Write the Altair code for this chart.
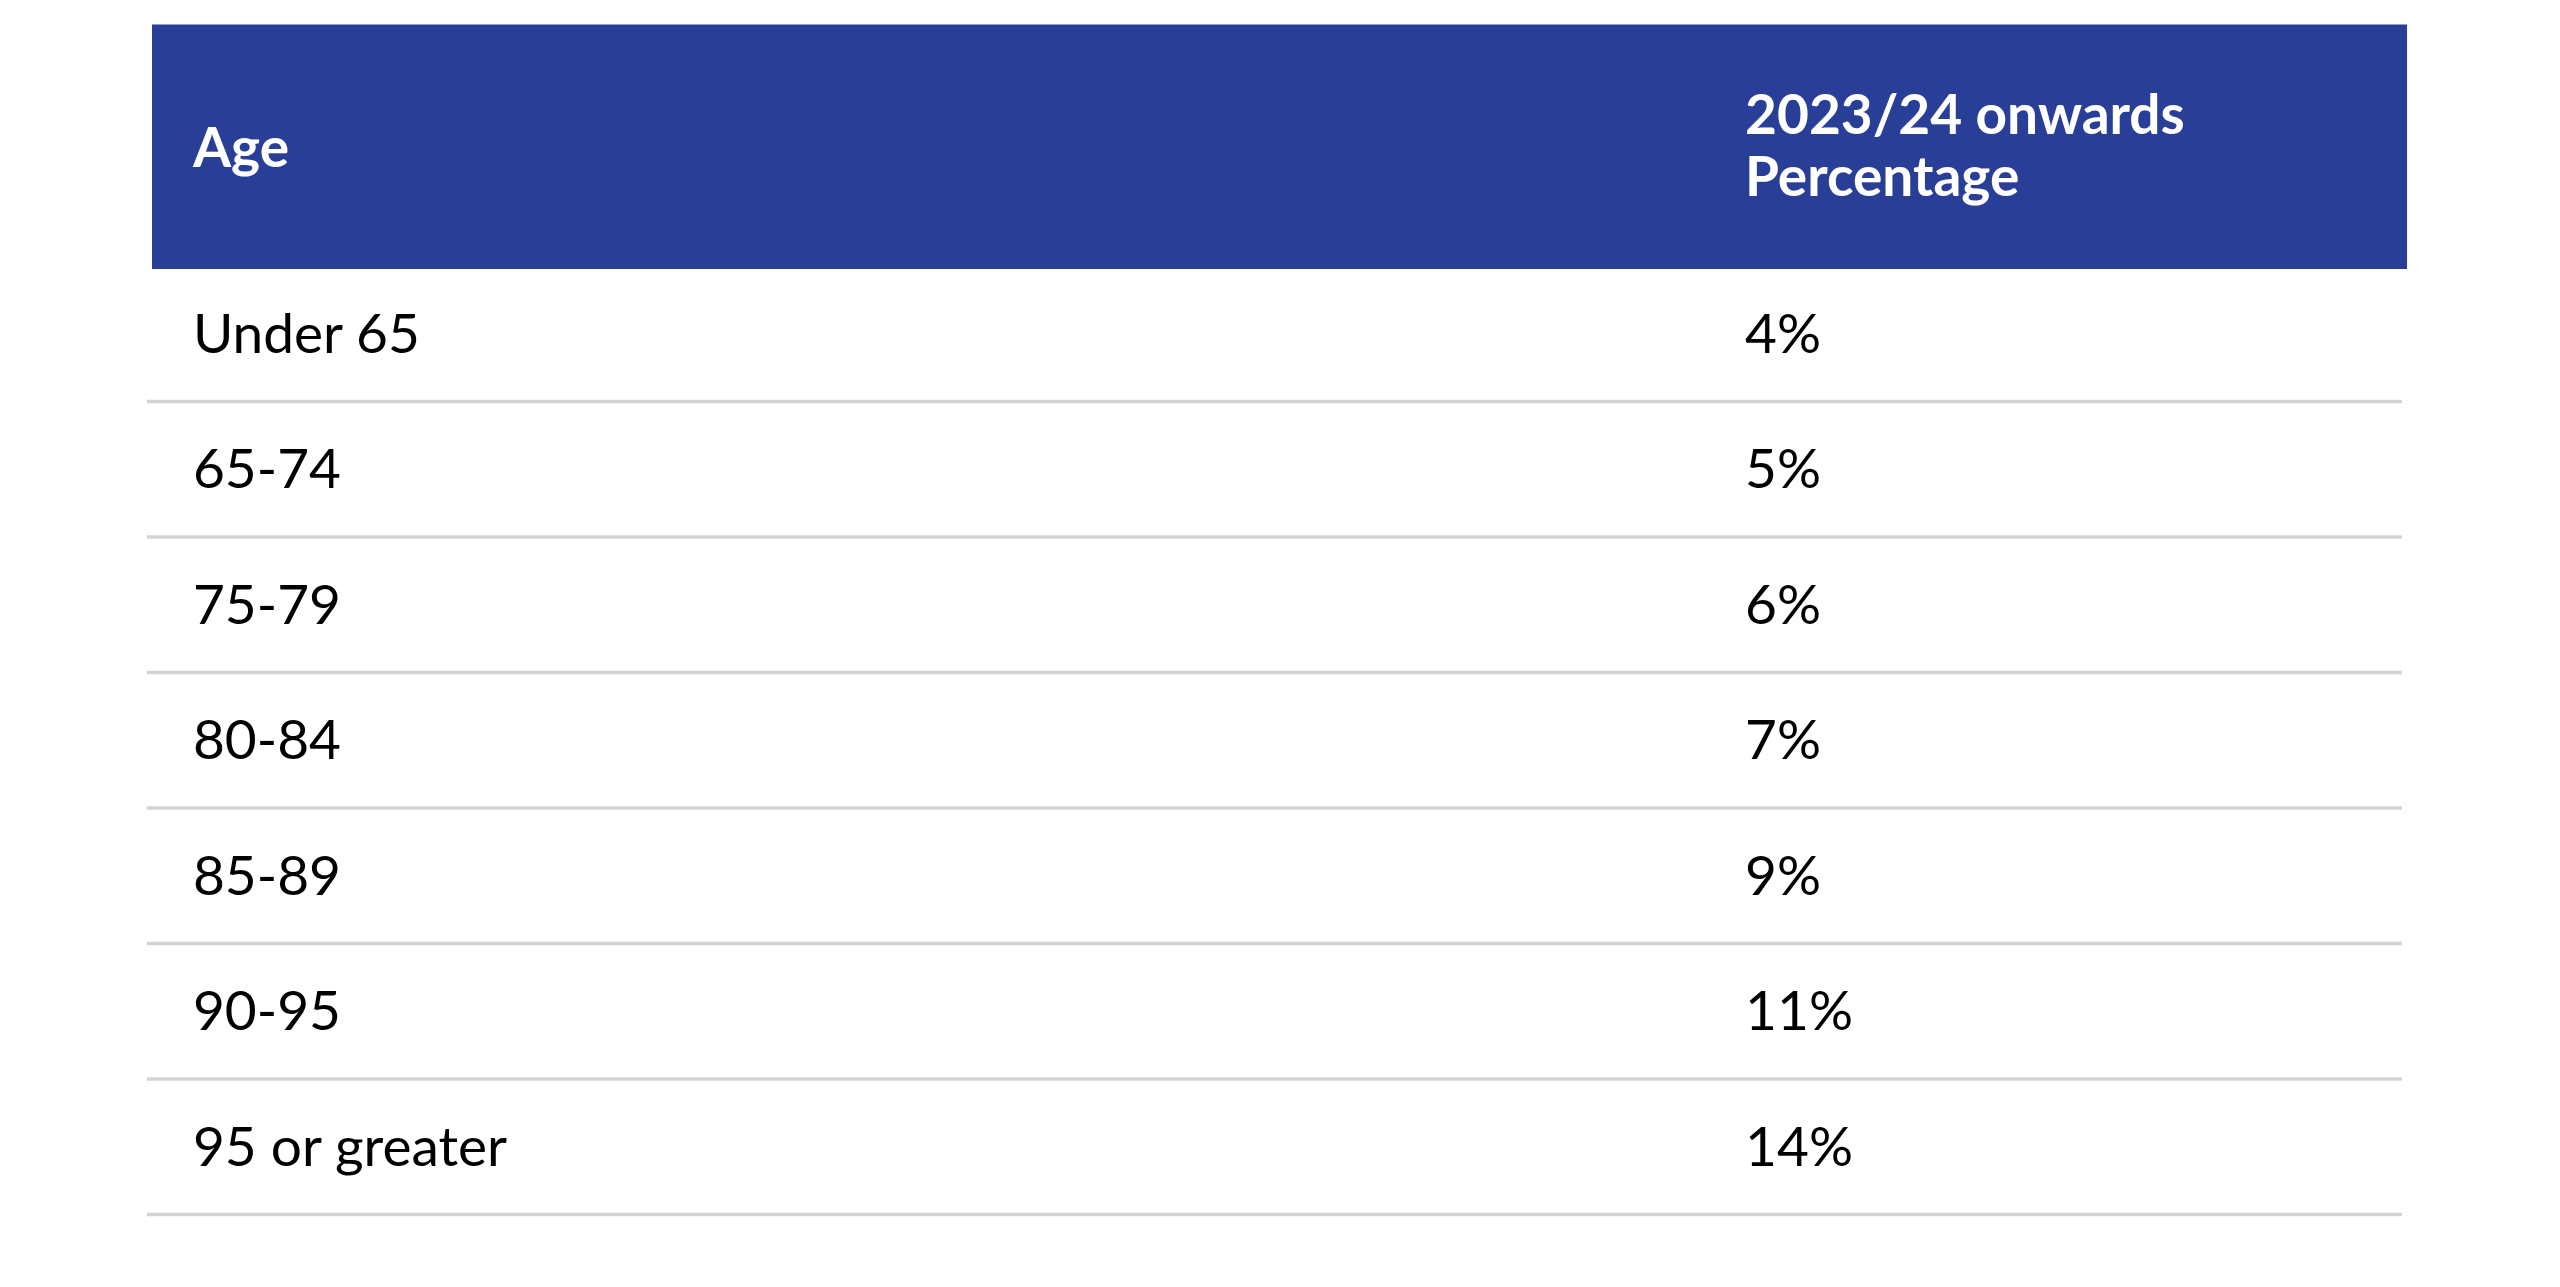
import altair as alt
import pandas as pd

# ---- data ----
ages = ["Under 65", "65-74", "75-79", "80-84", "85-89", "90-95", "95 or greater"]
percentages = ["4%", "5%", "6%", "7%", "9%", "11%", "14%"]
header_age = "Age"
header_pct_lines = ["2023/24 onwards", "Percentage"]

# ---- layout (scale units) ----
W, H = 2540, 1260
X_DOMAIN = [0, 100]
Y_DOMAIN = [-2.3985, 6.9004]     # row units, row 0 at top
COL0_X, COL1_X = 7.28, 68.39
RECT_X1, RECT_X2 = 5.67, 94.45
RULE_X1, RULE_X2 = 5.47, 94.25
HEAD_TOP, HEAD_BOT = -2.277, -0.472
HEAD_MID = -1.374
HEAD_L1, HEAD_L2 = -1.616, -1.159
RULE_OFFSET = 0.505

FONT = "Lato"
FS = 55
DY = 3
BLUE = "#283e97"
GREY = "#d2d3d5"

df = pd.DataFrame({"age": ages, "pct": percentages, "row": list(range(len(ages)))})

xs = alt.Scale(domain=X_DOMAIN, nice=False, zero=False)
ys = alt.Scale(domain=Y_DOMAIN, nice=False, zero=False, reverse=True)
noax = None

base = alt.Chart(df)

header_rect = alt.Chart(pd.DataFrame({"h": [0]})).mark_rect(color=BLUE).encode(
    x=alt.X("x:Q", scale=xs, axis=noax),
    x2="x2:Q",
    y=alt.Y("y:Q", scale=ys, axis=noax),
    y2="y2:Q",
).transform_calculate(x=str(RECT_X1), x2=str(RECT_X2), y=str(HEAD_TOP), y2=str(HEAD_BOT))

def head_text(txt, xv, yv):
    return alt.Chart(pd.DataFrame({"t": [txt]})).mark_text(
        font=FONT, fontSize=FS, fontWeight="bold", color="white",
        align="left", baseline="middle", dy=DY
    ).encode(
        x=alt.X("x:Q", scale=xs, axis=noax),
        y=alt.Y("y:Q", scale=ys, axis=noax),
        text="t:N",
    ).transform_calculate(x=str(xv), y=str(yv))

rules = base.mark_rule(color=GREY, strokeWidth=3.5).encode(
    x=alt.X("x1:Q", scale=xs, axis=noax),
    x2="x2:Q",
    y=alt.Y("ry:Q", scale=ys, axis=noax),
).transform_calculate(x1=str(RULE_X1), x2=str(RULE_X2), ry=f"datum.row + {RULE_OFFSET}")

age_text = base.mark_text(font=FONT, fontSize=FS, color="#000000", align="left", baseline="middle", dy=DY).encode(
    x=alt.X("cx:Q", scale=xs, axis=noax),
    y=alt.Y("row:Q", scale=ys, axis=noax),
    text="age:N",
).transform_calculate(cx=str(COL0_X))

pct_text = base.mark_text(font=FONT, fontSize=FS, color="#000000", align="left", baseline="middle", dy=DY).encode(
    x=alt.X("cx:Q", scale=xs, axis=noax),
    y=alt.Y("row:Q", scale=ys, axis=noax),
    text="pct:N",
).transform_calculate(cx=str(COL1_X))

chart = alt.layer(
    header_rect,
    head_text(header_age, COL0_X, HEAD_MID),
    head_text(header_pct_lines[0], COL1_X, HEAD_L1),
    head_text(header_pct_lines[1], COL1_X, HEAD_L2),
    rules, age_text, pct_text,
).properties(width=W, height=H, padding=0).configure_view(stroke=None)

chart.save("out.html", embed_options={"renderer": "svg", "actions": False})
